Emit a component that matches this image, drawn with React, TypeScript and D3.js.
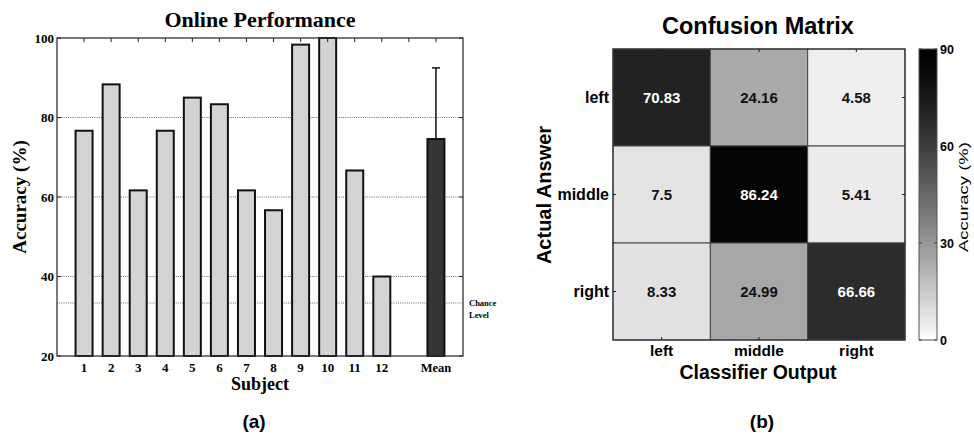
import React from "react";
import * as d3 from "d3";

// (a) online performance per subject
const subjects = ["1", "2", "3", "4", "5", "6", "7", "8", "9", "10", "11", "12"];
const accuracy = [76.67, 88.33, 61.67, 76.67, 85, 83.33, 61.67, 56.67, 98.33, 100, 66.67, 40];
const meanAcc = 74.58;
const meanSd = 17.9;
const chanceLevel = 33.33;
const yTicks = [20, 40, 60, 80, 100];
const gridLines = [40, 60, 80];

// (b) confusion matrix
const classes = ["left", "middle", "right"];
const matrix = [
  [70.83, 24.16, 4.58],
  [7.5, 86.24, 5.41],
  [8.33, 24.99, 66.66],
];
const cbarTicks = [0, 30, 60, 90];

const serif = "'Liberation Serif', 'Times New Roman', serif";
const sans = "'Liberation Sans', Arial, sans-serif";

const BarPanel = () => {
  const x = d3.scaleLinear().domain([0, 15]).range([57, 463]);
  const y = d3.scaleLinear().domain([20, 100]).range([356, 38]);
  const bw = 17;
  const top = y(100);
  const bottom = y(20);
  const xTickVals = d3.range(1, 15);

  return (
    <g>
      <text x={260} y={27} textAnchor="middle" fontFamily={serif} fontWeight="bold" fontSize={22}>
        Online Performance
      </text>
      {[...gridLines, chanceLevel].map((v) => (
        <line key={v} x1={x(0)} x2={x(15)} y1={y(v)} y2={y(v)} stroke="#555" strokeWidth={0.9} strokeDasharray="1,1.2" />
      ))}
      {accuracy.map((v, i) => (
        <rect key={i} x={x(i + 1) - bw / 2} y={y(v)} width={bw} height={bottom - y(v)} fill="#d3d3d3" stroke="#111" strokeWidth={2} />
      ))}
      <rect x={x(14) - bw / 2} y={y(meanAcc)} width={bw} height={bottom - y(meanAcc)} fill="#353535" stroke="#111" strokeWidth={2} />
      <line x1={x(14)} x2={x(14)} y1={y(meanAcc)} y2={y(meanAcc + meanSd)} stroke="#111" strokeWidth={1.5} />
      <line x1={x(14) - 4} x2={x(14) + 4} y1={y(meanAcc + meanSd)} y2={y(meanAcc + meanSd)} stroke="#111" strokeWidth={1.5} />
      {xTickVals.map((t) => (
        <line key={t} x1={x(t)} x2={x(t)} y1={top} y2={top + 4} stroke="#222" strokeWidth={1} />
      ))}
      {yTicks.map((t) => (
        <g key={t}>
          <line x1={x(0)} x2={x(0) + 4} y1={y(t)} y2={y(t)} stroke="#222" />
          <line x1={x(15)} x2={x(15) - 4} y1={y(t)} y2={y(t)} stroke="#222" />
          <text x={x(0) - 3} y={y(t) + 4.5} textAnchor="end" fontFamily={serif} fontWeight="bold" fontSize={13}>
            {t}
          </text>
        </g>
      ))}
      <rect x={x(0)} y={top} width={x(15) - x(0)} height={bottom - top} fill="none" stroke="#333" strokeWidth={1.3} />
      {subjects.map((s, i) => (
        <text key={s} x={x(i + 1)} y={372} textAnchor="middle" fontFamily={serif} fontWeight="bold" fontSize={13}>
          {s}
        </text>
      ))}
      <text x={x(14)} y={372} textAnchor="middle" fontFamily={serif} fontWeight="bold" fontSize={12.5}>
        Mean
      </text>
      <text x={260} y={390} textAnchor="middle" fontFamily={serif} fontWeight="bold" fontSize={18}>
        Subject
      </text>
      <text transform={`translate(26,197) rotate(-90)`} textAnchor="middle" fontFamily={serif} fontWeight="bold" fontSize={19}>
        Accuracy (%)
      </text>
      <text x={469} y={306} fontFamily={serif} fontWeight="bold" fontSize={8.5}>
        Chance
      </text>
      <text x={469} y={318} fontFamily={serif} fontWeight="bold" fontSize={8.5}>
        Level
      </text>
      <text x={254} y={428} textAnchor="middle" fontFamily={sans} fontWeight="bold" fontSize={19}>
        (a)
      </text>
    </g>
  );
};

const MatrixPanel = () => {
  const xb = d3.scaleBand().domain(classes).range([613, 905]);
  const yb = d3.scaleBand().domain(classes).range([49, 340]);
  const shade = (v: number) => {
    const t = Math.min(1, Math.max(0, v / 90));
    const g = Math.round(255 * Math.pow(1 - t, 1.3));
    return d3.rgb(g, g, g).toString();
  };
  const cy = d3.scaleLinear().domain([0, 90]).range([340, 49]);
  const cbX = 919;
  const cbW = 18;
  const stops = d3.range(0, 91, 3);

  return (
    <g>
      <defs>
        <linearGradient id="cbar" x1="0" y1="1" x2="0" y2="0">
          {stops.map((s) => (
            <stop key={s} offset={s / 90} stopColor={shade(s)} />
          ))}
        </linearGradient>
      </defs>
      <text x={758} y={34} textAnchor="middle" fontFamily={sans} fontWeight="bold" fontSize={23.5}>
        Confusion Matrix
      </text>
      {matrix.map((row, r) =>
        row.map((v, c) => (
          <g key={`${r}-${c}`}>
            <rect x={xb(classes[c])!} y={yb(classes[r])!} width={xb.bandwidth()} height={yb.bandwidth()} fill={shade(v)} stroke="#444" strokeWidth={1} />
            <text
              x={xb(classes[c])! + xb.bandwidth() / 2}
              y={yb(classes[r])! + yb.bandwidth() / 2 + 5.5}
              textAnchor="middle"
              fontFamily={sans}
              fontWeight="bold"
              fontSize={15}
              fill={v > 50 ? "#fff" : "#111"}
            >
              {v}
            </text>
          </g>
        ))
      )}
      <rect x={613} y={49} width={292} height={291} fill="none" stroke="#333" strokeWidth={1.2} />
      {classes.map((k) => {
        const cxp = xb(k)! + xb.bandwidth() / 2;
        const cyp = yb(k)! + yb.bandwidth() / 2;
        return (
          <g key={k}>
            <line x1={cxp} x2={cxp} y1={49} y2={52} stroke="#222" />
            <line x1={cxp} x2={cxp} y1={340} y2={337} stroke="#222" />
            <line x1={613} x2={616} y1={cyp} y2={cyp} stroke="#222" />
            <line x1={905} x2={902} y1={cyp} y2={cyp} stroke="#222" />
            <text x={609} y={cyp + 5.5} textAnchor="end" fontFamily={sans} fontWeight="bold" fontSize={16}>
              {k}
            </text>
            <text x={cxp} y={356} textAnchor="middle" fontFamily={sans} fontWeight="bold" fontSize={15.5}>
              {k}
            </text>
          </g>
        );
      })}
      <text x={758} y={379} textAnchor="middle" fontFamily={sans} fontWeight="bold" fontSize={19.5}>
        Classifier Output
      </text>
      <text transform={`translate(551,195) rotate(-90)`} textAnchor="middle" fontFamily={sans} fontWeight="bold" fontSize={20}>
        Actual Answer
      </text>
      <rect x={cbX} y={49} width={cbW} height={291} fill="url(#cbar)" stroke="#555" strokeWidth={1} />
      {cbarTicks.map((t) => (
        <g key={t}>
          <line x1={cbX} x2={cbX + 3} y1={cy(t)} y2={cy(t)} stroke="#444" />
          <line x1={cbX + cbW} x2={cbX + cbW - 3} y1={cy(t)} y2={cy(t)} stroke="#444" />
          <text x={cbX + cbW + 3} y={cy(t) + 4.5} fontFamily={sans} fontWeight="bold" fontSize={12.5}>
            {t}
          </text>
        </g>
      ))}
      <text
        transform={`translate(968,197) rotate(-90)`}
        textAnchor="middle"
        fontFamily={sans}
        fontSize={12.5}
        textLength={110}
        lengthAdjust="spacingAndGlyphs"
      >
        Accuracy (%)
      </text>
      <text x={762} y={428} textAnchor="middle" fontFamily={sans} fontWeight="bold" fontSize={19}>
        (b)
      </text>
    </g>
  );
};

const App = () => (
  <svg width={974} height={435} style={{ position: "absolute", left: 0, top: 0, background: "#fff" }}>
    <rect width={974} height={435} fill="#fff" />
    <BarPanel />
    <MatrixPanel />
  </svg>
);

export default App;
